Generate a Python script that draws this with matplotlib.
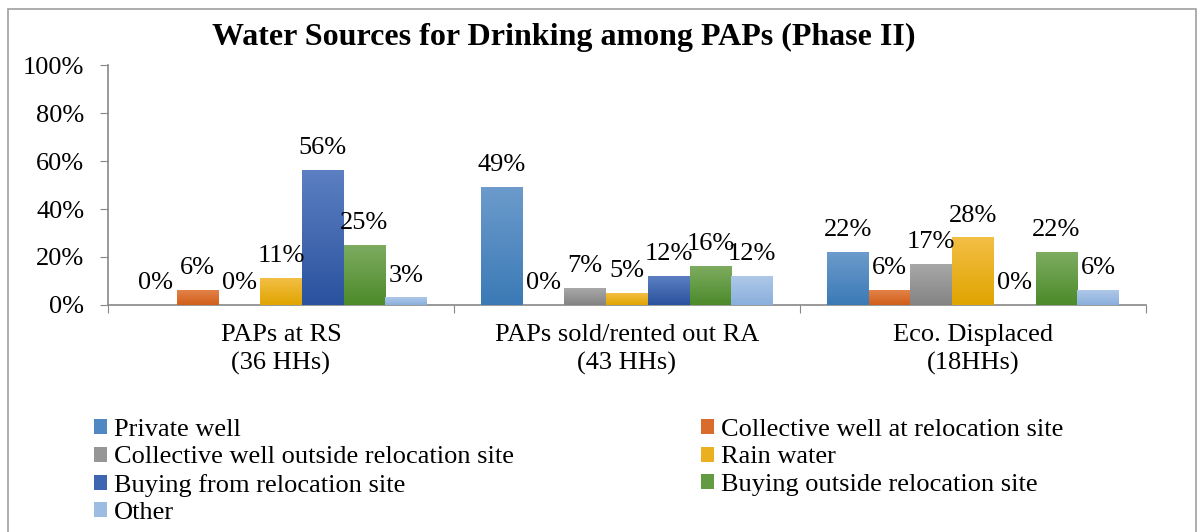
import numpy as np
import matplotlib
matplotlib.use("Agg")
import matplotlib.pyplot as plt
from matplotlib.colors import LinearSegmentedColormap
from matplotlib.patches import Rectangle, Patch
from matplotlib.ticker import PercentFormatter

plt.rcParams['font.family'] = ['Liberation Serif', 'DejaVu Serif']

# data
groups = ['PAPs at RS\n(36 HHs)', 'PAPs sold/rented out RA\n(43 HHs)', 'Eco. Displaced\n(18HHs)']
series = ['Private well', 'Collective well at relocation site',
          'Collective well outside relocation site', 'Rain water',
          'Buying from relocation site', 'Buying outside relocation site', 'Other']
private_well = [0, 49, 22]
coll_at_site = [6, 0, 6]
coll_outside = [0, 7, 17]
rain_water = [11, 5, 28]
buy_from_site = [56, 12, 0]
buy_outside = [25, 16, 22]
other = [3, 12, 6]
values = [private_well, coll_at_site, coll_outside, rain_water,
          buy_from_site, buy_outside, other]

# gradient colours (top, bottom)
grads = [('#6c9bcc', '#3b7ab6'), ('#e3824a', '#d05e18'), ('#a8a8a8', '#848484'),
         ('#f3bf45', '#e0a400'), ('#5c7fc2', '#2a529e'), ('#7dac60', '#4c8a2a'),
         ('#aec8e8', '#8aafdc')]
mids = ['#4f88c2', '#d96c2c', '#969696', '#eab020', '#3e66b0', '#629b42', '#9dbce2']

FS = 19

fig = plt.figure(figsize=(12.04, 5.32), dpi=100)
ax = fig.add_axes([0.0897, 0.4267, 0.8621, 0.4511])

n = len(series)
gap = 1.3
bw = 1.0 / (n + gap)
x = np.arange(len(groups))
grad = np.linspace(0, 1, 100).reshape(-1, 1)

for i, (name, vals) in enumerate(zip(series, values)):
    pos = x + gap * bw / 2 + bw * (i + 0.5)
    bars = ax.bar(pos, np.array(vals) / 100, width=bw, color=mids[i], label=name, zorder=2)
    cmap = LinearSegmentedColormap.from_list('g%d' % i, [grads[i][1], grads[i][0]])
    for b, v in zip(bars, vals):
        if b.get_height() > 0:
            ax.imshow(grad, cmap=cmap, origin='lower', aspect='auto', zorder=3,
                      extent=[b.get_x(), b.get_x() + b.get_width(), 0, b.get_height()])
        ax.annotate('%d%%' % v, (b.get_x() + b.get_width() / 2, b.get_height()),
                    xytext=(0, 8), textcoords='offset points', ha='center', va='bottom',
                    fontsize=FS, zorder=4)

ax.set_xlim(0, len(groups))
ax.set_ylim(0, 1)
ax.set_yticks(np.linspace(0, 1, 6))
ax.yaxis.set_major_formatter(PercentFormatter(1.0, decimals=0))
ax.set_xticks(np.arange(len(groups) + 1))
ax.set_xticklabels([])
ax.set_xticks(x + 0.5, minor=True)
ax.set_xticklabels(groups, minor=True, fontsize=FS, linespacing=1.3)
ax.tick_params(axis='x', which='major', length=6, color='#888888')
ax.tick_params(axis='x', which='minor', length=0, pad=14)
ax.tick_params(axis='y', length=6, color='#888888', labelsize=FS, pad=11)
for s in ['top', 'right']:
    ax.spines[s].set_visible(False)
for s in ['left', 'bottom']:
    ax.spines[s].set_color('#888888')
    ax.spines[s].set_linewidth(1.2)

fig.text(0.468, 0.929, 'Water Sources for Drinking among PAPs (Phase II)',
         ha='center', va='center', fontsize=23, fontweight='bold')

# legend in two columns
handles = [Patch(facecolor=mids[i]) for i in range(n)]
kw = dict(frameon=False, fontsize=FS, handlelength=0.5, handleheight=0.5,
          handletextpad=0.25, labelspacing=0.2, borderpad=0, borderaxespad=0)
fig.legend([handles[i] for i in (0, 2, 4, 6)], [series[i] for i in (0, 2, 4, 6)],
           loc='upper left', bbox_to_anchor=(0.078, 0.212), **kw)
fig.legend([handles[i] for i in (1, 3, 5)], [series[i] for i in (1, 3, 5)],
           loc='upper left', bbox_to_anchor=(0.582, 0.212), **kw)

# chart frame
fig.patches.append(Rectangle((0.0066, -0.05), 0.9868, 1.033, transform=fig.transFigure,
                             fill=False, edgecolor='#a0a0a0', linewidth=1.2))

fig.savefig('out.png', dpi=100)
